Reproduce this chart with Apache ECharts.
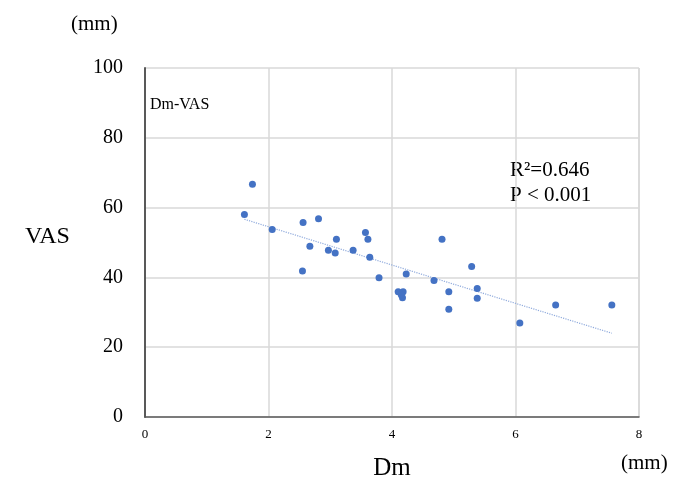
<!DOCTYPE html>
<html>
<head>
<meta charset="utf-8">
<script src="https://cdn.jsdelivr.net/npm/echarts@6/dist/echarts.min.js"></script>
<style>html,body{margin:0;padding:0;background:#fff}#c{width:689px;height:479px}</style>
</head>
<body>
<div id="c"></div>
<script>
var dmValues = [1.61, 1.74, 2.06, 2.55, 2.56, 2.67, 2.81, 2.97, 3.08, 3.10, 3.37, 3.57, 3.61, 3.64, 3.79,
  4.10, 4.18, 4.17, 4.15, 4.23, 4.68, 4.81, 4.92, 4.92, 5.29, 5.38, 5.38, 6.07, 6.65, 7.56];
var vasValues = [58.0, 66.7, 53.7, 41.8, 55.7, 48.9, 56.8, 47.8, 47.0, 50.9, 47.8, 52.9, 50.9, 45.8, 39.9,
  35.9, 35.9, 34.2, 35.0, 41.0, 39.1, 50.9, 35.9, 30.9, 43.1, 36.8, 34.0, 26.9, 32.1, 32.1];
var yTicks = [0, 20, 40, 60, 80, 100];
var xTicks = [0, 2, 4, 6, 8];

var pts = dmValues.map(function (x, i) { return [x, vasValues[i]]; });
// least squares trend line
var n = pts.length, sx = 0, sy = 0, sxx = 0, sxy = 0;
pts.forEach(function (p) { sx += p[0]; sy += p[1]; sxx += p[0] * p[0]; sxy += p[0] * p[1]; });
var slope = (n * sxy - sx * sy) / (n * sxx - sx * sx);
var icpt = (sy - slope * sx) / n;
var xMin = Math.min.apply(null, dmValues), xMax = Math.max.apply(null, dmValues);
var trend = [[xMin, icpt + slope * xMin], [xMax, icpt + slope * xMax]];

var serif = '"Liberation Serif", "Times New Roman", serif';
function txt(x, y, s, size, align) {
  return { type: 'text', x: x, y: y, style: { text: s, font: size + 'px ' + serif, fill: '#000', align: align || 'left', verticalAlign: 'middle' } };
}
var chart = echarts.init(document.getElementById('c'));
chart.setOption({
  animation: false,
  grid: { left: 145, right: 50, top: 68, bottom: 62, show: false },
  xAxis: {
    type: 'value', min: xTicks[0], max: xTicks[xTicks.length - 1], interval: 2,
    axisLine: { show: true, lineStyle: { color: '#595959', width: 1.5 } },
    axisTick: { show: false },
    axisLabel: { color: '#000', fontFamily: serif, fontSize: 13, margin: 11 },
    splitLine: { show: true, lineStyle: { color: '#d9d9d9', width: 1.5 } }
  },
  yAxis: {
    type: 'value', min: yTicks[0], max: yTicks[yTicks.length - 1], interval: 20,
    axisLine: { show: true, lineStyle: { color: '#595959', width: 2 } },
    axisTick: { show: false },
    axisLabel: { color: '#000', fontFamily: serif, fontSize: 20, margin: 22 },
    splitLine: { show: true, lineStyle: { color: '#d9d9d9', width: 1.5 } }
  },
  series: [
    {
      type: 'scatter', data: pts, symbolSize: 7,
      itemStyle: { color: '#4472C4', opacity: 1 }, z: 3
    },
    {
      type: 'line', data: trend, symbol: 'none',
      lineStyle: { color: '#8faadc', width: 1.2, type: 'dotted' }, z: 2
    }
  ],
  graphic: [
    { type: 'line', shape: { x1: 639, y1: 68, x2: 639, y2: 417 }, style: { stroke: '#d9d9d9', lineWidth: 1.5 } },
    txt(71, 24, '(mm)', 21),
    txt(25, 237, 'VAS', 24),
    txt(392, 468, 'Dm', 25, 'center'),
    txt(621, 463, '(mm)', 21),
    txt(150, 105, 'Dm-VAS', 16),
    txt(510, 170, 'R²=0.646', 21),
    txt(510, 195, 'P < 0.001', 21)
  ]
});
</script>
</body>
</html>
